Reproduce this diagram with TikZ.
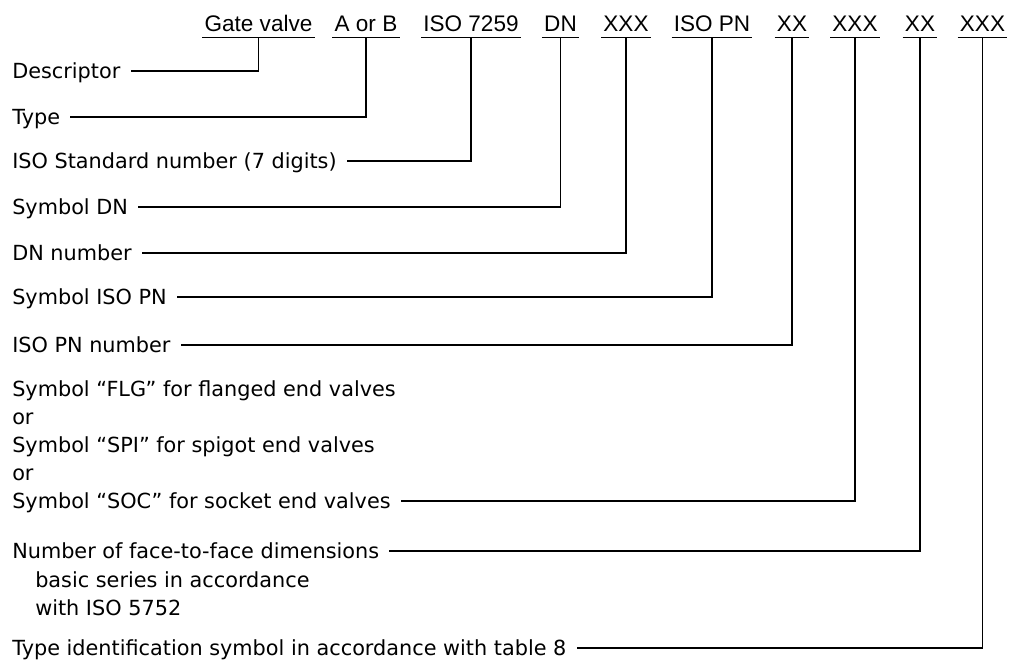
\documentclass[tikz,border=0pt]{standalone}
\usepackage{fontspec}
\newfontfamily\lblfont{DejaVu Sans}
\newfontfamily\hdfont{Liberation Sans}
\begin{document}
\begin{tikzpicture}[x=0.75pt,y=-0.75pt,
  hd/.style={font=\hdfont\fontsize{16.9pt}{20pt}\selectfont, anchor=base, inner xsep=1.5pt, inner ysep=4.1pt, text depth=0pt, text height=12pt},
  lbl/.style={font=\lblfont\fontsize{15.6pt}{20pt}\selectfont, anchor=base west, inner xsep=7.5pt, inner ysep=0pt, text depth=0pt, text height=11.25pt},
  conn/.style={line width=0.8pt},
  uline/.style={line width=0.8pt}]
\useasboundingbox (0,0) rectangle (1010,660);

% header
\node[hd] (h1) at (258.5,32) {Gate valve};
\node[hd] (h2) at (366,32) {A or B};
\node[hd] (h3) at (471,32) {ISO 7259};
\node[hd] (h4) at (560.5,32) {DN};
\node[hd] (h5) at (626,32) {XXX};
\node[hd] (h6) at (712,32) {ISO PN};
\node[hd] (h7) at (792,32) {XX};
\node[hd] (h8) at (855,32) {XXX};
\node[hd] (h9) at (920,32) {XX};
\node[hd] (h10) at (982.5,32) {XXX};
\foreach \h in {h1,h2,h3,h4,h5,h6,h7,h8,h9,h10}
  \draw[uline] (\h.south west) -- (\h.south east);

% labels
\node[lbl] (l1) at (2,78.5) {Descriptor};
\node[lbl] (l2) at (2,124.5) {Type};
\node[lbl] (l3) at (2,168.5) {ISO Standard number (7 digits)};
\node[lbl] (l4) at (2,214.5) {Symbol DN};
\node[lbl] (l5) at (2,260.5) {DN number};
\node[lbl] (l6) at (2,304.5) {Symbol ISO PN};
\node[lbl] (l7) at (2,352.5) {ISO PN number};
\node[lbl] (l8a) at (2,396.5) {Symbol “FLG” for flanged end valves};
\node[lbl] (l8b) at (2,424.5) {or};
\node[lbl] (l8c) at (2,452.5) {Symbol “SPI” for spigot end valves};
\node[lbl] (l8d) at (2,480.5) {or};
\node[lbl] (l8) at (2,508.5) {Symbol “SOC” for socket end valves};
\node[lbl] (l9) at (2,558.5) {Number of face-to-face dimensions};
\node[lbl] (l9b) at (25,587) {basic series in accordance};
\node[lbl] (l9c) at (25,615.5) {with ISO 5752};
\node[lbl] (l10) at (2,655.5) {Type identification symbol in accordance with table 8};

% connectors
\draw[conn] (h1.south) |- (l1.east);
\draw[conn] (h2.south) |- (l2.east);
\draw[conn] (h3.south) |- (l3.east);
\draw[conn] (h4.south) |- (l4.east);
\draw[conn] (h5.south) |- (l5.east);
\draw[conn] (h6.south) |- (l6.east);
\draw[conn] (h7.south) |- (l7.east);
\draw[conn] (h8.south) |- (l8.east);
\draw[conn] (h9.south) |- (l9.east);
\draw[conn] (h10.south) |- (l10.east);
\end{tikzpicture}
\end{document}
